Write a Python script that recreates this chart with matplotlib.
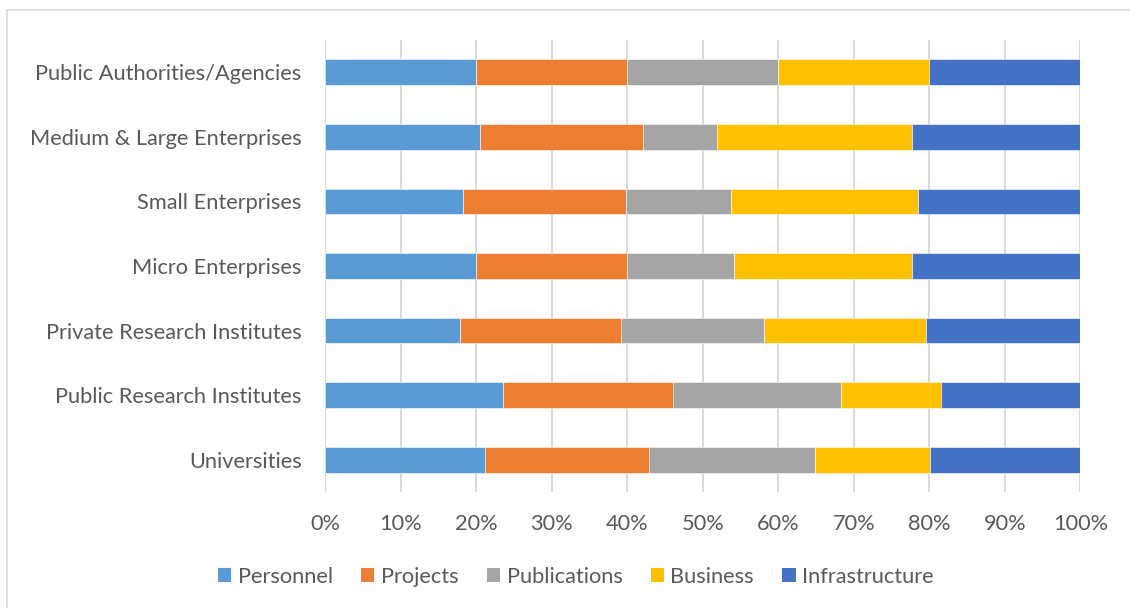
import matplotlib
matplotlib.use("Agg")
import matplotlib.pyplot as plt
from matplotlib.patches import Patch
from matplotlib.lines import Line2D
import numpy as np

categories = ["Universities", "Public Research Institutes", "Private Research Institutes",
              "Micro Enterprises", "Small Enterprises", "Medium & Large Enterprises",
              "Public Authorities/Agencies"]
series = ["Personnel", "Projects", "Publications", "Business", "Infrastructure"]

# shares in percent, one list per series, same order as categories
personnel = [21.1, 23.6, 17.9, 19.9, 18.3, 20.5, 20.0]
projects = [21.8, 22.4, 21.3, 20.0, 21.5, 21.6, 20.0]
publications = [21.9, 22.3, 18.9, 14.2, 14.0, 9.8, 20.0]
business = [15.3, 13.3, 21.5, 23.6, 24.7, 25.8, 20.0]
infrastructure = [19.9, 18.4, 20.4, 22.3, 21.5, 22.3, 20.0]

colors = ["#5B9BD5", "#ED7D31", "#A5A5A5", "#FFC000", "#4472C4"]
txt = "#595959"
fs = 15.7

plt.rcParams['font.family'] = ['Lato', 'DejaVu Sans']

fig = plt.figure(figsize=(11.3, 6.08), dpi=100)
ax = fig.add_axes([0.2879, 0.1908, 0.956 - 0.2879, 0.9342 - 0.1908])

y = np.arange(len(categories))
left = np.zeros(len(categories))
for vals, c in zip([personnel, projects, publications, business, infrastructure], colors):
    ax.barh(y, vals, left=left, height=0.4, color=c, edgecolor="white", linewidth=0.4, zorder=3)
    left += np.array(vals)

ax.set_xlim(0, 100)
ax.set_ylim(-0.5, len(categories) - 0.5)
ax.set_xticks(np.arange(0, 101, 10))
ax.set_xticklabels([f"{v}%" for v in range(0, 101, 10)])
ax.set_yticks(y)
ax.set_yticklabels(categories)
ax.tick_params(axis="x", length=0, pad=16, labelsize=fs, labelcolor=txt)
ax.tick_params(axis="y", length=0, pad=17, labelsize=fs, labelcolor=txt)
ax.grid(axis="x", color="#d9d9d9", linewidth=1.4, zorder=0)
for s in ax.spines.values():
    s.set_visible(False)

handles = [Patch(facecolor=c, edgecolor="none") for c in colors]
fig.legend(handles, series, loc="center", bbox_to_anchor=(576 / 1130, 0.051), ncol=5,
           frameon=False, fontsize=fs, labelcolor=txt, handlelength=0.6, handleheight=0.6,
           handletextpad=0.3, columnspacing=1.3)

# chart frame (only top and left edges fall inside the picture)
fig.add_artist(Line2D([7 / 1130, 7 / 1130], [0, 1 - 10 / 608], transform=fig.transFigure,
                      color="#d9d9d9", linewidth=1.2))
fig.add_artist(Line2D([7 / 1130, 1], [1 - 10 / 608, 1 - 10 / 608], transform=fig.transFigure,
                      color="#d9d9d9", linewidth=1.2))

fig.savefig("out.png", dpi=100)
